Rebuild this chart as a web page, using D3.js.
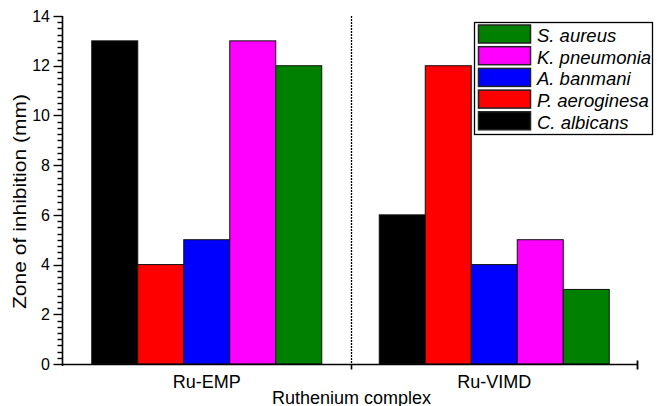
<!DOCTYPE html>
<html>
<head>
<meta charset="utf-8">
<script src="https://cdn.jsdelivr.net/npm/d3@7"></script>
<style>
  html, body { margin: 0; padding: 0; background: #fff; }
  svg { display: block; }
  text { font-family: "Liberation Sans", Arial, Helvetica, sans-serif; fill: #000; }
</style>
</head>
<body>
<svg id="chart" width="657" height="406"></svg>
<script>
// ---- data ----
const categories = ["Ru-EMP", "Ru-VIMD"];
const seriesNames = ["C. albicans", "P. aeroginesa", "A. banmani", "K. pneumonia", "S. aureus"];
const seriesColors = ["#000000", "#ff0000", "#0000ff", "#ff00ff", "#008000"];
const valuesRuEMP  = [13, 4, 5, 13, 12];
const valuesRuVIMD = [6, 12, 4, 5, 3];
const yTicks = [0, 2, 4, 6, 8, 10, 12, 14];
const xTitle = "Ruthenium complex";
const yTitle = "Zone of inhibition (mm)";

const values = [valuesRuEMP, valuesRuVIMD];

const svg = d3.select("#chart");
const axisX0 = 62.5, axisY0 = 364.5;

const y = d3.scaleLinear().domain([0, 14]).range([364, 16]);
const x0 = d3.scaleBand().domain(categories).range([63, 638]).paddingInner(0.2).paddingOuter(0.1);
const x1 = d3.scaleBand().domain(seriesNames).range([0, x0.bandwidth()]);

// bars
const g = svg.append("g");
categories.forEach((c, ci) => {
  seriesNames.forEach((s, si) => {
    const v = values[ci][si];
    g.append("rect")
      .attr("x", x0(c) + x1(s))
      .attr("y", y(v))
      .attr("width", x1.bandwidth())
      .attr("height", y(0) - y(v))
      .attr("fill", seriesColors[si])
      .attr("stroke", "#111")
      .attr("stroke-width", 1);
  });
});

// dashed separator between groups
const sepX = Math.round(x0(categories[1]) - x0.step() * x0.paddingInner() / 2) + 0.5;
svg.append("line")
  .attr("x1", sepX).attr("x2", sepX)
  .attr("y1", y(14)).attr("y2", y(0))
  .attr("stroke", "#000").attr("stroke-width", 1.3)
  .attr("stroke-dasharray", "2,1");

// y axis
const yAxis = svg.append("g");
yAxis.append("line")
  .attr("x1", axisX0).attr("x2", axisX0)
  .attr("y1", y(14)).attr("y2", y(0) + 2)
  .attr("stroke", "#000").attr("stroke-width", 1.6);
const minor = d3.range(0, 14.001, 0.25);
minor.forEach(v => {
  const major = Math.abs(v / 2 - Math.round(v / 2)) < 1e-6;
  yAxis.append("line")
    .attr("x1", axisX0 - (major ? 9 : 5)).attr("x2", axisX0)
    .attr("y1", Math.round(y(v)) + 0.5).attr("y2", Math.round(y(v)) + 0.5)
    .attr("stroke", "#000").attr("stroke-width", 1.4);
});
yTicks.forEach(v => {
  yAxis.append("text")
    .attr("x", 50).attr("y", y(v))
    .attr("dy", "0.36em")
    .attr("text-anchor", "end")
    .attr("font-size", 16)
    .text(v);
});

// x axis
const xAxis = svg.append("g");
const xEnd = Math.round(x0.range()[1]) - 0.5;
xAxis.append("line")
  .attr("x1", axisX0).attr("x2", xEnd)
  .attr("y1", axisY0).attr("y2", axisY0)
  .attr("stroke", "#000").attr("stroke-width", 1.6);
xAxis.append("line")
  .attr("x1", sepX).attr("x2", sepX)
  .attr("y1", axisY0).attr("y2", axisY0 + 5)
  .attr("stroke", "#000").attr("stroke-width", 1.6);
xAxis.append("line")
  .attr("x1", xEnd).attr("x2", xEnd)
  .attr("y1", axisY0 - 4).attr("y2", axisY0 + 5)
  .attr("stroke", "#000").attr("stroke-width", 1.8);
categories.forEach(c => {
  xAxis.append("text")
    .attr("x", x0(c) + x0.bandwidth() / 2)
    .attr("y", 388)
    .attr("text-anchor", "middle")
    .attr("font-size", 18)
    .text(c);
});

// axis titles
svg.append("text")
  .attr("x", sepX).attr("y", 404)
  .attr("text-anchor", "middle")
  .attr("font-size", 18)
  .text(xTitle);
svg.append("text")
  .attr("transform", "translate(26,201.5) rotate(-90)")
  .attr("text-anchor", "middle")
  .attr("font-size", 17.5)
  .attr("textLength", 215)
  .attr("lengthAdjust", "spacingAndGlyphs")
  .text(yTitle);

// legend
const leg = svg.append("g");
leg.append("rect")
  .attr("x", 474.5).attr("y", 22.5)
  .attr("width", 178).attr("height", 112)
  .attr("fill", "#fff").attr("stroke", "#000").attr("stroke-width", 1.3);
const legendOrder = seriesNames.map((s, i) => i).reverse();
legendOrder.forEach((si, k) => {
  const top = 25 + k * 21.7;
  leg.append("rect")
    .attr("x", 478.5).attr("y", top)
    .attr("width", 52).attr("height", 18)
    .attr("fill", seriesColors[si])
    .attr("stroke", "#222").attr("stroke-width", 1.5);
  leg.append("text")
    .attr("x", 537).attr("y", top + 17)
    .attr("font-size", 18.5)
    .attr("font-style", "italic")
    .text(seriesNames[si]);
});
</script>
</body>
</html>
